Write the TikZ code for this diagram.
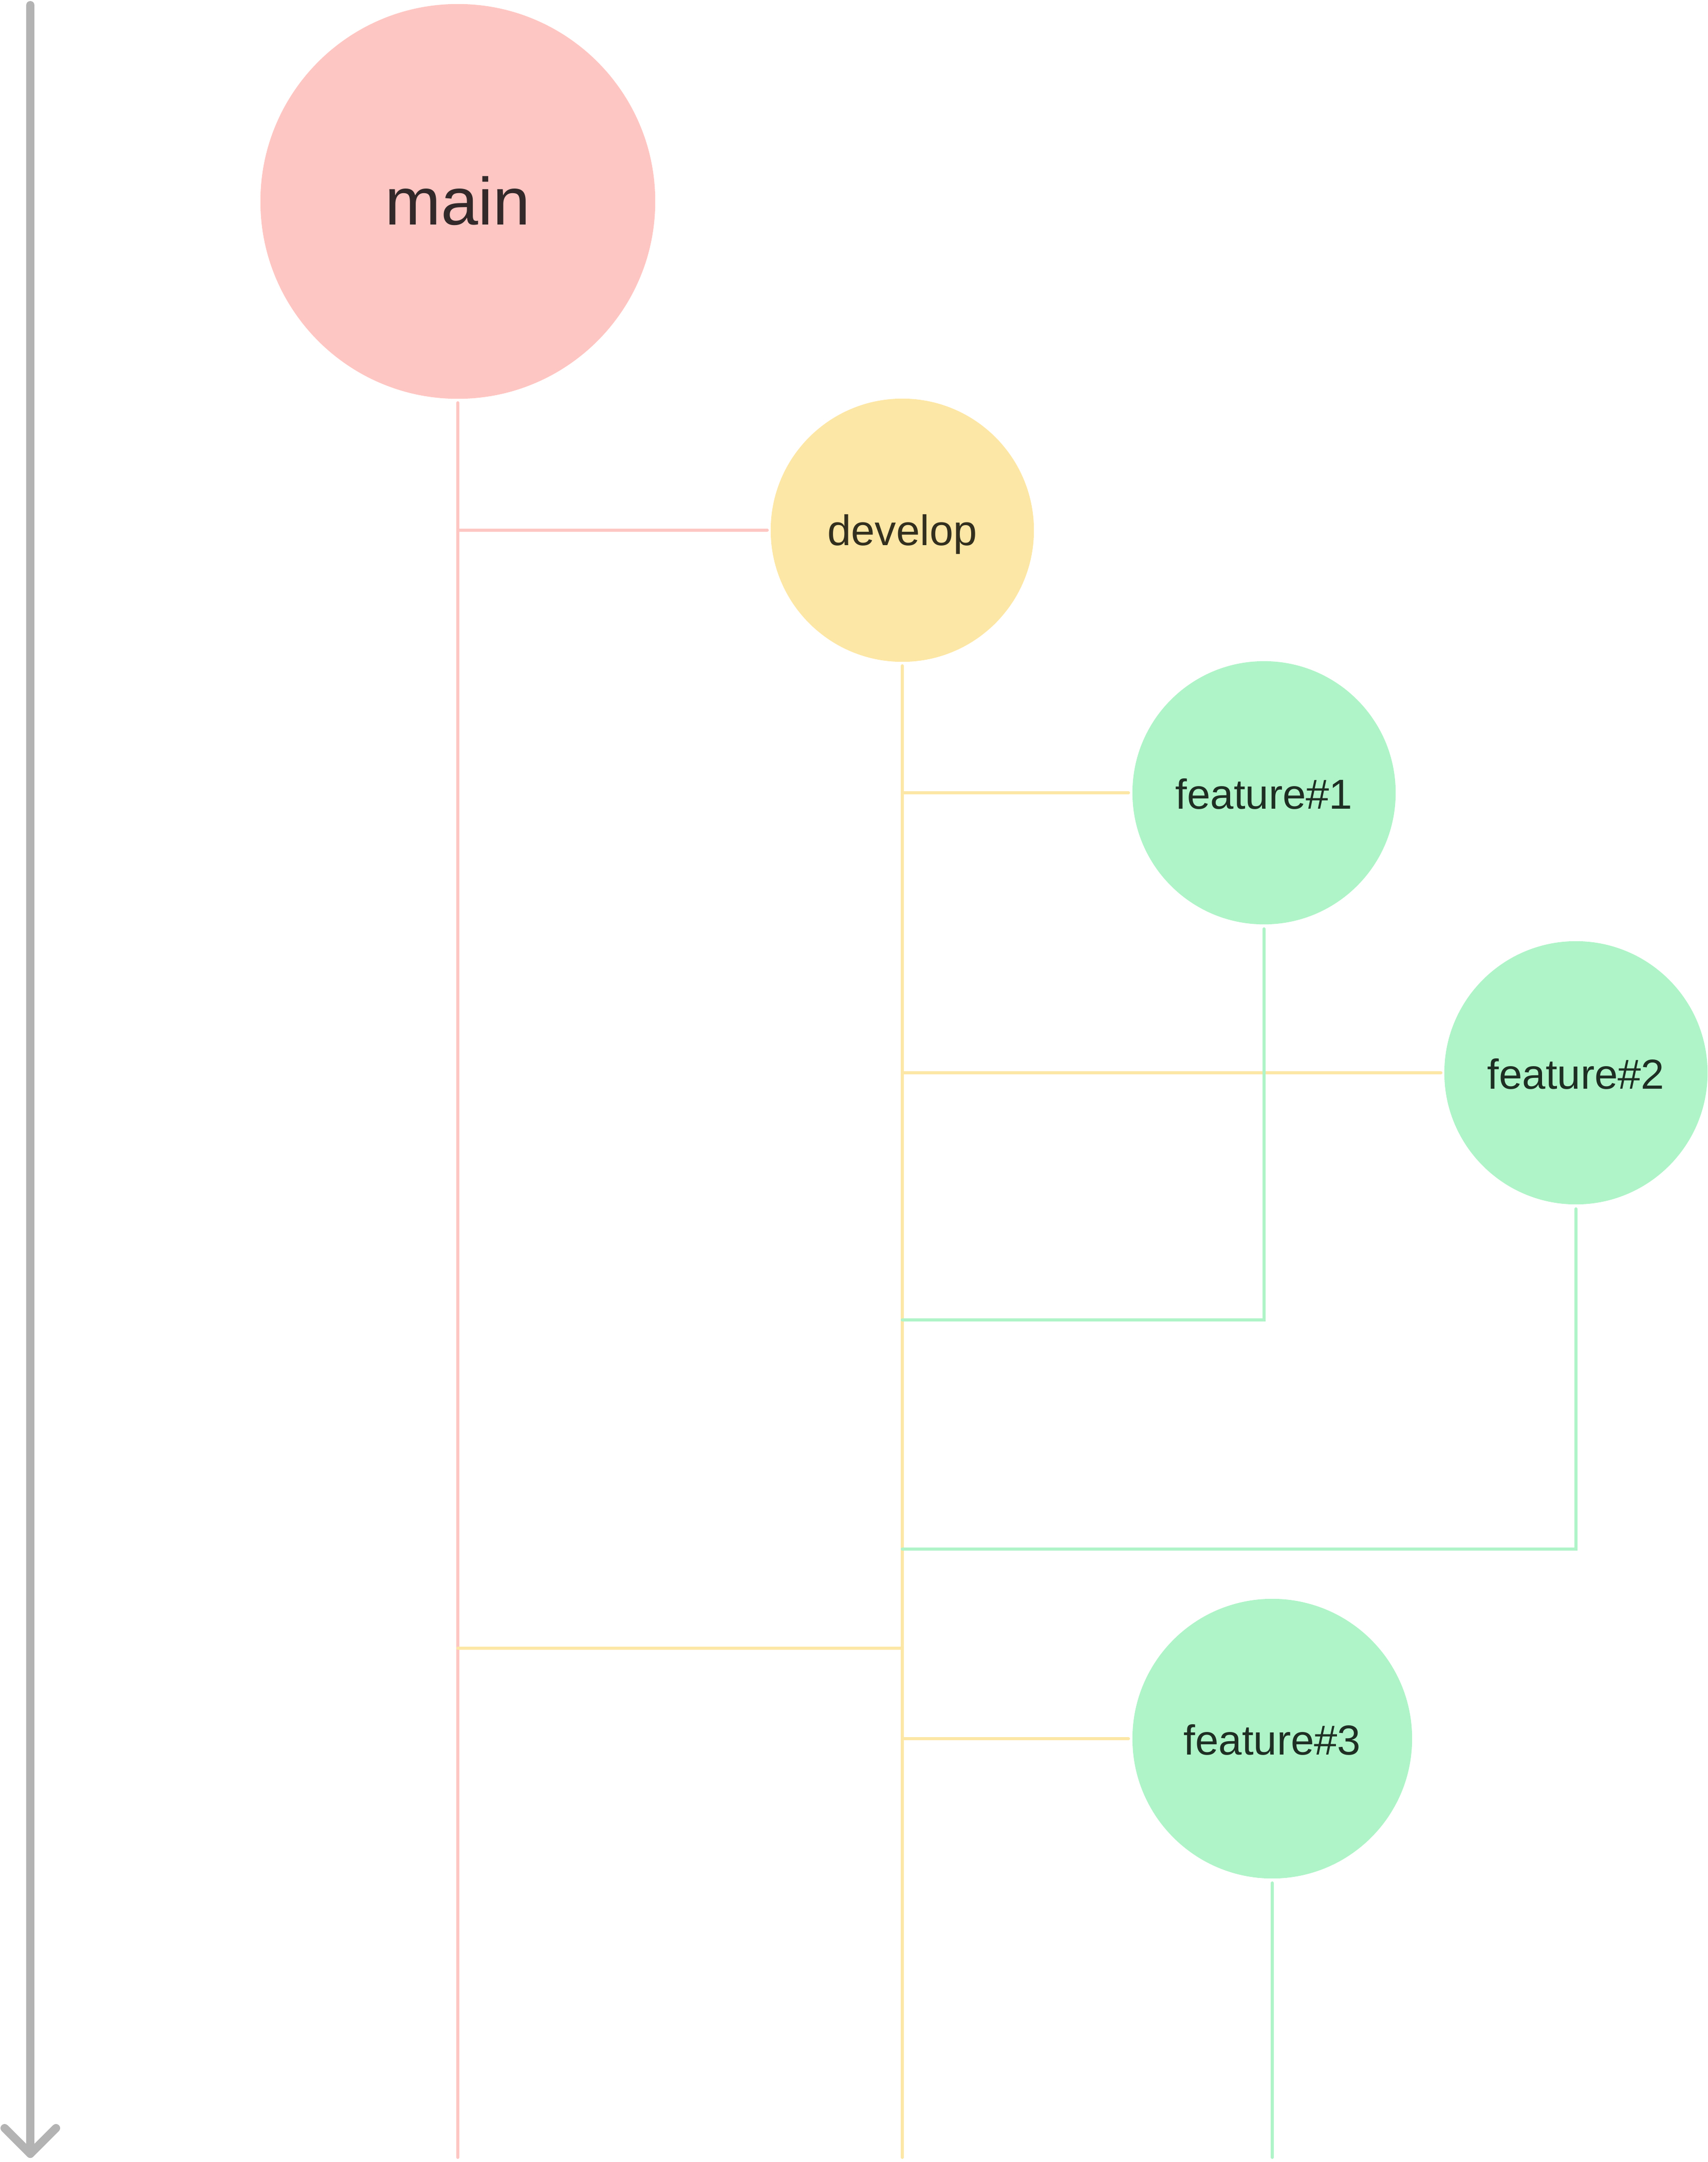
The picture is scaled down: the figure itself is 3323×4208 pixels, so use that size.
\documentclass[tikz,border=0pt]{standalone}
\usepackage{fontspec}
\setmainfont{Liberation Sans}
\usetikzlibrary{arrows}
\definecolor{MainRed}{HTML}{FEC6C2}
\definecolor{DevYellow}{HTML}{FDE7A6}
\definecolor{FeatGreen}{HTML}{AFF4C8}
\definecolor{ArrowGray}{HTML}{B3B3B3}
\definecolor{MainText}{HTML}{33292A}
\definecolor{DevText}{HTML}{332F1E}
\definecolor{FeatText}{HTML}{1E2E23}

\begin{document}
\begin{tikzpicture}[x=0.01cm, y=-0.01cm]
  \tikzstyle{every node} = [circle,
			    inner sep = 0,
			    text depth = 0pt]
  \tikzstyle{MainStyle} = [fill = MainRed, text = MainText, minimum size = 7.68cm,
			   text height = 25.6pt, font = \fontsize{37}{42}\selectfont]
  \tikzstyle{DevStyle} = [fill = DevYellow, text = DevText, minimum size = 5.12cm,
			  text height = 16.8pt, font = \fontsize{23.6}{28}\selectfont]
  \tikzstyle{FeatStyle} = [fill = FeatGreen, text = FeatText, minimum size = 5.12cm,
			   text height = 18pt, font = \fontsize{23.2}{28}\selectfont]
\tikzset{EdgeStyle/.style = {line width = 0.06cm, line cap = round}}
\tikzset{TimeStyle/.style = {line width = 0.16cm, line cap = round, line join = round, color = ArrowGray}}
\useasboundingbox (0,0) rectangle (3323,4208);

\node[MainStyle] (M0) at (891,392) {main};
\node[DevStyle] (D0) at (1756,1032) {develop};
\node[FeatStyle] (F1) at (2460,1543) {feature\#1};
\node[FeatStyle] (F2) at (3067,2088) {feature\#2};
\node[FeatStyle, minimum size = 5.44cm] (F3) at (2476,3384) {feature\#3};

\coordinate (T0) at (59,10);
\coordinate (T1) at (59,4192);
\coordinate (B0) at (891,4199);
\coordinate (B1) at (1756,4199);
\coordinate (B2) at (2476,4199);
\coordinate (J1) at (1756,2569);
\coordinate (J2) at (1756,3015);
\coordinate (J3) at (891,3208);

\draw[TimeStyle] (T0) -- (T1);
\draw[TimeStyle] ([shift={(-50,-50)}]T1) -- (T1) -- ([shift={(50,-50)}]T1);

\tikzset{EdgeStyle/.append style = {color = MainRed}}
\draw[EdgeStyle, shorten <= 0.07cm] (M0.south) -- (B0);
\draw[EdgeStyle, shorten >= 0.06cm] (M0 |- D0) -- (D0.west);
\tikzset{EdgeStyle/.append style = {color = DevYellow}}
\draw[EdgeStyle, shorten <= 0.07cm] (D0.south) -- (B1);
\draw[EdgeStyle, shorten >= 0.07cm] (D0 |- F1) -- (F1.west);
\draw[EdgeStyle, shorten >= 0.06cm] (D0 |- F2) -- (F2.west);
\draw[EdgeStyle] (J3) -- (D0 |- J3);
\draw[EdgeStyle, shorten >= 0.07cm] (D0 |- F3) -- (F3.west);
\tikzset{EdgeStyle/.append style = {color = FeatGreen}}
\draw[EdgeStyle, shorten <= 0.08cm] (F1.south) |- (J1);
\draw[EdgeStyle, shorten <= 0.08cm] (F2.south) |- (J2);
\draw[EdgeStyle, shorten <= 0.08cm] (F3.south) -- (B2);

\end{tikzpicture}
\end{document}
